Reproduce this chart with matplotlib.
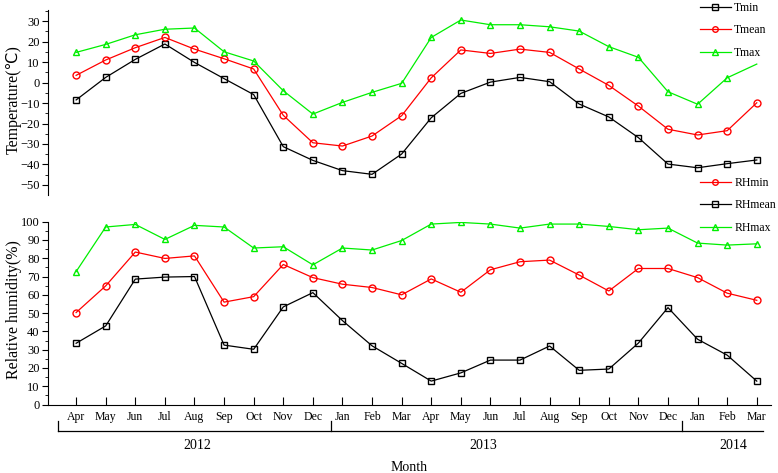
import numpy as np
import matplotlib.pyplot as plt
from matplotlib import transforms
from matplotlib.ticker import MultipleLocator

plt.rcParams['font.family'] = ['Liberation Serif', 'DejaVu Sans']

# months from Apr 2012 to Mar 2014
months = ['Apr', 'May', 'Jun', 'Jul', 'Aug', 'Sep', 'Oct', 'Nov', 'Dec',
          'Jan', 'Feb', 'Mar', 'Apr', 'May', 'Jun', 'Jul', 'Aug', 'Sep',
          'Oct', 'Nov', 'Dec', 'Jan', 'Feb', 'Mar']
years = ['2012', '2013', '2014']

# temperature (C)
t_min = [-8.5, 2.5, 11.3, 18.8, 9.8, 1.9, -5.9, -31.3, -38.0, -43.0, -44.8, -34.9,
         -17.2, -5.3, 0.2, 2.5, 0.4, -10.5, -16.8, -26.9, -39.8, -41.6, -39.6, -37.8]
t_mean = [3.5, 11.0, 17.0, 22.0, 16.3, 11.6, 6.6, -16.0, -29.4, -31.0, -26.1, -16.2,
          2.3, 15.9, 14.2, 16.3, 14.7, 6.6, -1.4, -11.5, -22.8, -25.6, -23.5, -9.9]
t_max = [14.7, 18.6, 23.3, 26.0, 26.6, 15.0, 10.5, -4.0, -15.4, -9.7, -4.8, -0.4,
         22.0, 30.5, 28.2, 28.2, 27.2, 25.1, 17.5, 12.3, -4.5, -10.6, 2.3, 9.0]

# relative humidity (%)
rh_min = [50.3, 64.9, 83.4, 79.9, 81.3, 56.0, 59.0, 76.6, 69.4, 65.8, 64.0, 60.0,
          68.7, 61.4, 73.7, 78.1, 79.0, 70.8, 62.1, 74.4, 74.4, 69.4, 60.9, 57.0]
rh_mean = [33.5, 43.0, 68.6, 69.7, 70.0, 32.5, 30.2, 53.4, 61.2, 45.9, 32.1, 22.5,
           12.8, 17.3, 24.3, 24.3, 32.0, 18.7, 19.4, 33.6, 53.0, 35.7, 27.0, 12.8]
rh_max = [72.7, 97.1, 98.5, 90.3, 98.0, 97.1, 85.6, 86.3, 76.4, 85.6, 84.5, 89.7,
          98.7, 99.6, 98.7, 96.5, 98.7, 98.7, 97.4, 95.6, 96.5, 88.3, 87.2, 87.9]

x = np.arange(len(months))
green = '#00ee00'

fig = plt.figure(figsize=(7.78, 4.73), dpi=100)
ax1 = fig.add_axes([0.0617, 0.5877, 0.9289, 0.3912])
ax2 = fig.add_axes([0.0617, 0.1448, 0.9289, 0.3865])

mk = dict(markerfacecolor='none', markersize=5, markeredgewidth=1.0, linewidth=0.9)
leg = dict(frameon=False, fontsize=8.5, handlelength=2.6, labelspacing=0.88,
           handletextpad=0.3, borderpad=0, borderaxespad=0, markerscale=0.8)

# 위쪽 그림: 기온
ax1.plot(x, t_min, 'k-s', label='Tmin', **mk)
ax1.plot(x, t_mean, '-o', color='red', label='Tmean', **mk)
ax1.plot(x, t_max, '-^', color=green, label='Tmax', markevery=list(range(len(x) - 1)), **mk)

ax1.set_xlim(-0.95, 23.47)
ax1.set_ylim(-54.9, 35.4)
ax1.set_yticks(np.arange(-50, 31, 10))
ax1.yaxis.set_minor_locator(MultipleLocator(5))
for s in ['top', 'right', 'bottom']:
    ax1.spines[s].set_visible(False)
ax1.set_xticks([])
ax1.tick_params(axis='y', which='major', direction='out', length=4, labelsize=9, pad=2)
ax1.tick_params(axis='y', which='minor', direction='out', length=2)
ax1.legend(loc='upper left', bbox_to_anchor=(700 / 778, 1 - 2 / 473),
           bbox_transform=fig.transFigure, **leg)

# 아래쪽 그림: 상대습도
ax2.plot(x, rh_min, '-o', color='red', label='RHmin', **mk)
ax2.plot(x, rh_mean, 'k-s', label='RHmean', **mk)
ax2.plot(x, rh_max, '-^', color=green, label='RHmax', **mk)

ax2.set_xlim(-0.95, 23.47)
ax2.set_ylim(0, 100)
ax2.set_yticks(np.arange(0, 101, 10))
ax2.yaxis.set_minor_locator(MultipleLocator(5))
for s in ['top', 'right']:
    ax2.spines[s].set_visible(False)
ax2.set_xticks(x)
ax2.set_xticklabels(months)
ax2.tick_params(axis='x', direction='in', length=6, labelsize=8.5, pad=5)
ax2.tick_params(axis='y', which='major', direction='out', length=4, labelsize=9, pad=2)
ax2.tick_params(axis='y', which='minor', direction='out', length=2)
ax2.legend(loc='upper left', bbox_to_anchor=(700 / 778, 1 - 177 / 473),
           bbox_transform=fig.transFigure, **leg)

# 연도 구분 괄호
tr = transforms.blended_transform_factory(ax2.transData, ax2.transAxes)
ax2.plot([-0.61, 23.2], [-0.145, -0.145], 'k-', lw=0.9, transform=tr, clip_on=False)
for xv in [-0.61, 8.6, 20.46]:
    ax2.plot([xv, xv], [-0.09, -0.145], 'k-', lw=0.9, transform=tr, clip_on=False)
for xv, yr in zip([4.1, 13.75, 22.2], years):
    ax2.text(xv, -0.222, yr, transform=tr, ha='center', va='center', fontsize=10)
ax2.text(11.25, -0.342, 'Month', transform=tr, ha='center', va='center', fontsize=10)

fig.text(0.018, 0.79, 'Temperature(\u2103)', rotation=90, ha='center', va='center', fontsize=11.5)
fig.text(0.018, 0.345, 'Relative humidity(%)', rotation=90, ha='center', va='center', fontsize=11.5)

plt.savefig('out.png', dpi=100)
